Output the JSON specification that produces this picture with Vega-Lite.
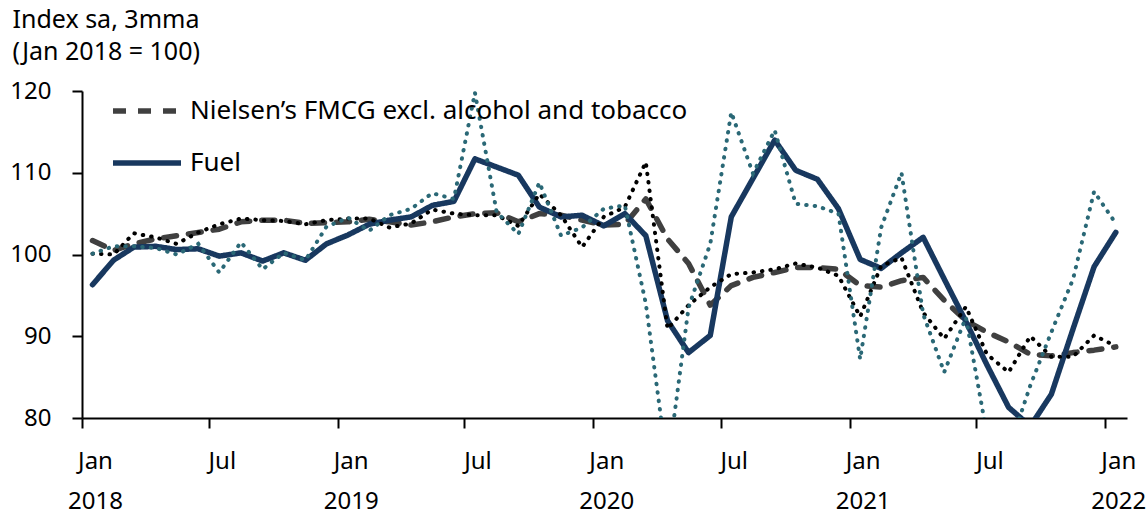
{
  "$schema": "https://vega.github.io/schema/vega-lite/v6.json",
  "width": 1045,
  "height": 327,
  "autosize": {"type": "none"},
  "padding": {"left": 82, "top": 91, "right": 21, "bottom": 102},
  "background": "white",
  "config": {
    "view": {"stroke": null},
    "font": "Noto Sans",
    "axis": {"labelFont": "Noto Sans", "titleFont": "Noto Sans"},
    "legend": {"labelFont": "Noto Sans"}
  },
  "data": {
    "values": [
      {"d": "2018-01-16", "n": 101.7, "f": 96.3, "nm": 100.1, "fm": 100.1},
      {"d": "2018-02-15", "n": 100.5, "f": 99.3, "nm": 100.0, "fm": 101.0},
      {"d": "2018-03-16", "n": 101.3, "f": 100.9, "nm": 102.6, "fm": 101.0},
      {"d": "2018-04-16", "n": 101.9, "f": 101.0, "nm": 102.1, "fm": 100.8},
      {"d": "2018-05-16", "n": 102.3, "f": 100.6, "nm": 101.3, "fm": 100.0},
      {"d": "2018-06-16", "n": 102.7, "f": 100.7, "nm": 102.7, "fm": 101.3},
      {"d": "2018-07-16", "n": 103.1, "f": 99.8, "nm": 103.7, "fm": 97.8},
      {"d": "2018-08-16", "n": 104.0, "f": 100.2, "nm": 104.4, "fm": 101.5},
      {"d": "2018-09-16", "n": 104.2, "f": 99.2, "nm": 104.2, "fm": 98.2},
      {"d": "2018-10-16", "n": 104.2, "f": 100.2, "nm": 104.1, "fm": 100.2},
      {"d": "2018-11-16", "n": 103.8, "f": 99.3, "nm": 103.7, "fm": 99.3},
      {"d": "2018-12-16", "n": 103.9, "f": 101.3, "nm": 104.2, "fm": 103.4},
      {"d": "2019-01-16", "n": 104.0, "f": 102.4, "nm": 104.4, "fm": 104.5},
      {"d": "2019-02-15", "n": 104.3, "f": 103.7, "nm": 104.4, "fm": 102.9},
      {"d": "2019-03-16", "n": 104.0, "f": 104.2, "nm": 103.3, "fm": 104.8},
      {"d": "2019-04-16", "n": 103.6, "f": 104.6, "nm": 103.8, "fm": 105.6},
      {"d": "2019-05-16", "n": 104.0, "f": 106.0, "nm": 105.5, "fm": 107.5},
      {"d": "2019-06-16", "n": 104.6, "f": 106.5, "nm": 105.0, "fm": 106.8},
      {"d": "2019-07-16", "n": 105.0, "f": 111.7, "nm": 104.8, "fm": 119.8},
      {"d": "2019-08-16", "n": 105.1, "f": 110.7, "nm": 104.8, "fm": 105.2},
      {"d": "2019-09-16", "n": 104.0, "f": 109.7, "nm": 103.5, "fm": 102.5},
      {"d": "2019-10-16", "n": 105.0, "f": 105.8, "nm": 107.4, "fm": 108.8},
      {"d": "2019-11-16", "n": 104.8, "f": 104.6, "nm": 104.8, "fm": 102.3},
      {"d": "2019-12-16", "n": 104.2, "f": 104.8, "nm": 100.9, "fm": 103.3},
      {"d": "2020-01-16", "n": 103.6, "f": 103.5, "nm": 104.6, "fm": 105.6},
      {"d": "2020-02-15", "n": 103.7, "f": 105.0, "nm": 105.8, "fm": 106.0},
      {"d": "2020-03-16", "n": 106.8, "f": 102.3, "nm": 111.3, "fm": 94.0},
      {"d": "2020-04-16", "n": 101.9, "f": 91.9, "nm": 90.9, "fm": 74.0},
      {"d": "2020-05-16", "n": 98.9, "f": 88.0, "nm": 93.8, "fm": 93.5},
      {"d": "2020-06-16", "n": 93.8, "f": 90.1, "nm": 96.0, "fm": 101.3},
      {"d": "2020-07-16", "n": 96.2, "f": 104.6, "nm": 97.6, "fm": 117.4},
      {"d": "2020-08-16", "n": 97.2, "f": 109.3, "nm": 97.8, "fm": 109.9},
      {"d": "2020-09-16", "n": 97.8, "f": 114.0, "nm": 98.2, "fm": 115.2},
      {"d": "2020-10-16", "n": 98.4, "f": 110.3, "nm": 98.9, "fm": 106.2},
      {"d": "2020-11-16", "n": 98.4, "f": 109.2, "nm": 98.4, "fm": 105.9},
      {"d": "2020-12-16", "n": 98.2, "f": 105.6, "nm": 97.4, "fm": 105.0},
      {"d": "2021-01-16", "n": 96.2, "f": 99.4, "nm": 92.4, "fm": 87.2},
      {"d": "2021-02-15", "n": 96.0, "f": 98.3, "nm": 98.6, "fm": 103.3},
      {"d": "2021-03-16", "n": 96.8, "f": 100.2, "nm": 99.6, "fm": 110.0},
      {"d": "2021-04-16", "n": 97.2, "f": 102.1, "nm": 92.9, "fm": 92.7},
      {"d": "2021-05-16", "n": 94.4, "f": 97.0, "nm": 89.7, "fm": 85.6},
      {"d": "2021-06-16", "n": 91.9, "f": 91.8, "nm": 93.6, "fm": 92.3},
      {"d": "2021-07-16", "n": 90.5, "f": 86.5, "nm": 87.8, "fm": 78.0},
      {"d": "2021-08-16", "n": 89.3, "f": 81.3, "nm": 85.6, "fm": 76.0},
      {"d": "2021-09-16", "n": 87.8, "f": 79.0, "nm": 90.0, "fm": 84.0},
      {"d": "2021-10-16", "n": 87.6, "f": 82.9, "nm": 87.5, "fm": 90.5},
      {"d": "2021-11-16", "n": 88.0, "f": 90.9, "nm": 87.5, "fm": 97.0},
      {"d": "2021-12-16", "n": 88.3, "f": 98.5, "nm": 90.1, "fm": 107.7},
      {"d": "2022-01-16", "n": 88.7, "f": 102.7, "nm": 88.8, "fm": 103.8}
    ]
  },
  "encoding": {
    "x": {
      "field": "d",
      "type": "temporal",
      "scale": {"domain": [{"year": 2018, "month": 1, "date": 1}, {"year": 2022, "month": 2, "date": 1}]},
      "axis": {
        "title": null,
        "values": [
          {"year": 2018, "month": 1, "date": 1}, {"year": 2018, "month": 7, "date": 1},
          {"year": 2019, "month": 1, "date": 1}, {"year": 2019, "month": 7, "date": 1},
          {"year": 2020, "month": 1, "date": 1}, {"year": 2020, "month": 7, "date": 1},
          {"year": 2021, "month": 1, "date": 1}, {"year": 2021, "month": 7, "date": 1},
          {"year": 2022, "month": 1, "date": 1}
        ],
        "labelExpr": "month(datum.value) == 0 ? ['Jan', '' + year(datum.value)] : ['Jul']",
        "labelOffset": 13,
        "labelFontSize": 24,
        "labelColor": "#000000",
        "labelLineHeight": 40,
        "labelPadding": 21,
        "labelBaseline": "top",
        "labelFlush": false,
        "labelOverlap": false,
        "domainColor": "#000000",
        "domainWidth": 2,
        "tickColor": "#000000",
        "tickWidth": 2,
        "tickSize": 10,
        "grid": false
      }
    },
    "y": {
      "type": "quantitative",
      "scale": {"domain": [80, 120], "nice": false, "zero": false},
      "axis": {
        "title": ["Index sa, 3mma", "(Jan 2018 = 100)"],
        "titleAngle": 0,
        "titleAlign": "left",
        "titleBaseline": "top",
        "titleX": -70,
        "titleY": -84,
        "titleFontSize": 25,
        "titleFontWeight": "normal",
        "titleColor": "#000000",
        "titleLineHeight": 32,
        "values": [80, 90, 100, 110, 120],
        "labelFontSize": 24,
        "labelColor": "#000000",
        "labelPadding": 21,
        "domainColor": "#000000",
        "domainWidth": 2,
        "tickColor": "#000000",
        "tickWidth": 2,
        "tickSize": 10,
        "grid": false
      }
    }
  },
  "layer": [
    {
      "transform": [{"fold": ["n", "f"], "as": ["key", "val"]}],
      "mark": {"type": "line", "clip": true, "strokeCap": "round", "strokeJoin": "round", "strokeWidth": 5.5},
      "encoding": {
        "y": {"field": "val", "type": "quantitative"},
        "color": {
          "field": "key",
          "type": "nominal",
          "scale": {"domain": ["n", "f"], "range": ["#404040", "#18385f"]},
          "legend": {
            "title": null,
            "orient": "none",
            "legendX": 28,
            "legendY": -17,
            "symbolType": "stroke",
            "symbolSize": 4624,
            "symbolStrokeWidth": 5.5,
            "labelFontSize": 26,
            "labelColor": "#000000",
            "labelOffset": 6,
            "labelLimit": 0,
            "rowPadding": 2,
            "labelExpr": "datum.label == 'n' ? 'Nielsen’s FMCG excl. alcohol and tobacco' : 'Fuel'"
          }
        },
        "strokeDash": {
          "field": "key",
          "type": "nominal",
          "scale": {"domain": ["n", "f"], "range": [[13, 12], [1, 0]]},
          "legend": null
        },
        "order": {"field": "d", "type": "temporal"}
      }
    },
    {
      "mark": {"type": "line", "clip": true, "color": "#000000", "strokeWidth": 4, "strokeCap": "round", "strokeDash": [0.5, 8]},
      "encoding": {"y": {"field": "nm", "type": "quantitative"}}
    },
    {
      "mark": {"type": "line", "clip": true, "color": "#2a6876", "strokeWidth": 4, "strokeCap": "round", "strokeDash": [0.5, 8]},
      "encoding": {"y": {"field": "fm", "type": "quantitative"}}
    }
  ]
}
